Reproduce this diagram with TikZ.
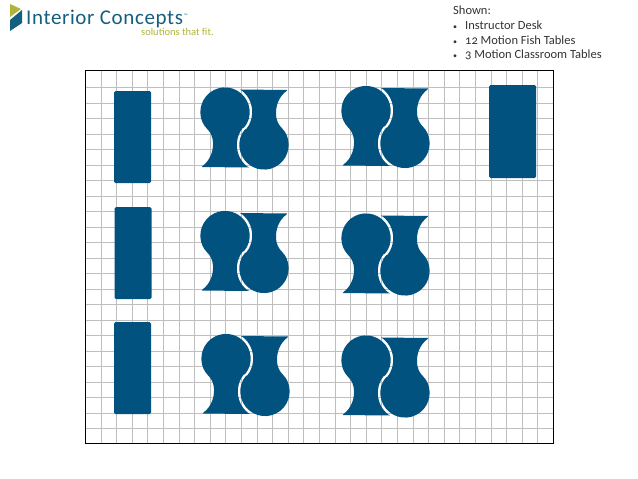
\documentclass[tikz,border=0pt]{standalone}
\usepackage{fontspec}
\setmainfont[Numbers=OldStyle]{Carlito}
\newfontfamily\logofont[LetterSpace=3]{Carlito}
\usetikzlibrary{positioning}
\definecolor{tableblue}{RGB}{1,82,127}
\definecolor{gridgray}{RGB}{190,190,190}
\definecolor{logoblue}{RGB}{20,95,125}
\definecolor{logogreen}{RGB}{175,180,60}
\tikzstyle{desk} = [rectangle, fill=tableblue, rounded corners=1.5pt, inner sep=0pt]
\tikzstyle{fish} = [fill=tableblue, rounded corners=0.8pt]
\tikzstyle{note} = [anchor=base west, inner sep=0pt, font=\fontsize{12.5}{14}\selectfont, text=black!80]
\tikzstyle{gridline} = [gridgray, line width=1.3pt]
\tikzstyle{gridheavy} = [gridgray, line width=1.7pt]
\newcommand{\bulletbox}{\makebox[12pt][l]{\footnotesize •}}
% one pair of fish tables, the second is the first turned by half a circle
\newcommand{\fishshape}{
	(-0.65,-0.69) arc (40:-225:24.6)
	.. controls (-34,4) and (-31.5,9) .. (-31.5,15)
	.. controls (-31.5,24) and (-35,32) .. (-42,37.5)
	-- (-43,38.7) -- (4.5,38.8)
	-- (3.9,38.78) arc (125:220:27.2) -- cycle
}
\newcommand{\fishpair}[2]{
	\begin{scope}[shift={(#1,#2)}]
		\path [fish] \fishshape;
		\path [fish, rotate=180] \fishshape;
	\end{scope}
}

\begin{document}
\begin{tikzpicture}[x=1pt, y=-1pt]
	\useasboundingbox (0,0) rectangle (638,479);
	%Logo
	\fill [logogreen] (10,4) -- (21,9) -- (10,17) -- cycle;
	\fill [logoblue] (10,20) -- (22,10) -- (22,23) -- (10,31) -- cycle;
	\node [anchor=base west, inner sep=0pt, text=logoblue, font=\logofont\fontsize{21}{23}\selectfont] (brand) at (26,24) {Interior Concepts};
	\node [anchor=base west, inner sep=0pt, text=logoblue, font=\fontsize{5}{6}\selectfont] (trade) at (184,17) {™};
	\node [anchor=base west, inner sep=0pt, text=logogreen, font=\fontsize{10.5}{11}\selectfont] (slogan) at (141,35.5) {solutions that fit.};

	%Notes
	\node [note] (shown) at (453,15) {Shown:};
	\node [note] (noteA) at (453,29.7) {\bulletbox Instructor Desk};
	\node [note] (noteB) at (453,44.7) {\bulletbox 12 Motion Fish Tables};
	\node [note] (noteC) at (453,58.7) {\bulletbox 3 Motion Classroom Tables};

	%Grid
	\foreach \i in {1,...,29} {
		\pgfmathsetmacro{\gridx}{round(85+15.6*\i)+0.5}
		\draw [gridline] (\gridx,70) -- (\gridx,443);
	}
	\foreach \i in {0,...,22} {
		\pgfmathsetmacro{\gridy}{round(87+15.5*\i)+0.5}
		\pgfmathparse{int(mod(\i,2))}
		\ifnum\pgfmathresult=0
			\draw [gridheavy] (85,\gridy) -- (553,\gridy);
		\else
			\draw [gridline] (85,\gridy) -- (553,\gridy);
		\fi
	}
	\draw [black, line width=0.9pt] (85,70) rectangle (553,443);

	%Classroom tables and desk
	\node [desk, minimum width=37pt, minimum height=92pt] (tableA) at (132.5,137) {};
	\node [desk, minimum width=37pt, minimum height=92pt] (tableB) at (133,253) {};
	\node [desk, minimum width=37pt, minimum height=92pt] (tableC) at (132.5,368) {};
	\node [desk, minimum width=47pt, minimum height=93pt] (deskA) at (512.5,131.5) {};

	%Fish tables
	\fishpair{244.5}{128.5}
	\fishpair{385.5}{127}
	\fishpair{244.5}{252}
	\fishpair{385.5}{254.5}
	\fishpair{245.5}{375}
	\fishpair{385.5}{376.5}
\end{tikzpicture}
\end{document}
